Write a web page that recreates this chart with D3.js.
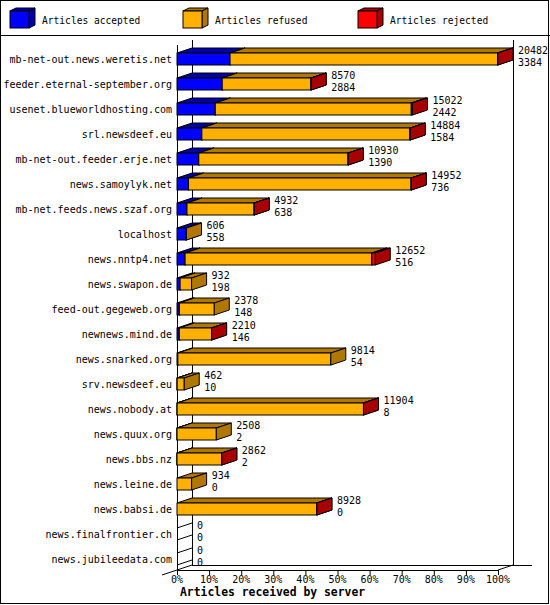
<!DOCTYPE html>
<html>
<head>
<meta charset="utf-8">
<script src="https://cdn.jsdelivr.net/npm/d3@7"></script>
<style>
  body { margin: 0; background: #fff; }
  text { font-family: "DejaVu Sans Mono", monospace; font-size: 10px; fill: #000; }
</style>
</head>
<body>
<div id="chart"></div>
<script>
// Servers, top to bottom
const servers = [
    'mb-net-out.news.weretis.net', 'feeder.eternal-september.org', 'usenet.blueworldhosting.com',
    'srl.newsdeef.eu', 'mb-net-out.feeder.erje.net', 'news.samoylyk.net', 'mb-net.feeds.news.szaf.org',
    'localhost', 'news.nntp4.net', 'news.swapon.de', 'feed-out.gegeweb.org', 'newnews.mind.de',
    'news.snarked.org', 'srv.newsdeef.eu', 'news.nobody.at', 'news.quux.org', 'news.bbs.nz',
    'news.leine.de', 'news.babsi.de', 'news.finalfrontier.ch', 'news.jubileedata.com'
];
const accepted = [3384, 2884, 2442, 1584, 1390, 736, 638, 558, 516, 198, 148, 146, 54, 10, 8, 2, 2, 0, 0, 0, 0];
const refused  = [17068, 5666, 12510, 13285, 9530, 14204, 4286, 48, 11916, 734, 2230, 2060, 9760, 452, 11890, 2506, 2857, 934, 8923, 0, 0];
const rejected = [30, 20, 70, 15, 10, 12, 8, 0, 220, 0, 0, 4, 0, 0, 6, 0, 3, 0, 5, 0, 0];
const pctTicks = [0, 10, 20, 30, 40, 50, 60, 70, 80, 90, 100];

const seriesNames = ['Articles accepted', 'Articles refused', 'Articles rejected'];
const frontColors = ['#0000ff', '#ffb000', '#ff0000'];
const darkColors  = ['#0000a8', '#b07800', '#a80000'];

const W = 550, H = 605;
const dx = 15, dy = -5;   // 3D depth

const svg = d3.select('#chart').append('svg')
    .attr('width', W)
    .attr('height', H);

svg.append('rect')
    .attr('x', 0.5).attr('y', 0.5)
    .attr('width', W - 2).attr('height', H - 2)
    .attr('fill', '#fff').attr('stroke', '#000');

// Legend
svg.append('line')
    .attr('x1', 0).attr('x2', W).attr('y1', 35.5).attr('y2', 35.5)
    .attr('stroke', '#000');

const legendX = [10, 183, 358];
seriesNames.forEach((name, i) => {
    const x = legendX[i], y = 11, w = 19, h = 17, ox = 6, oy = -3;
    const g = svg.append('g').attr('stroke', '#000').attr('stroke-linejoin', 'miter');
    g.append('polygon')
        .attr('points', [[x, y], [x + ox, y + oy], [x + w + ox, y + oy], [x + w, y]].join(' '))
        .attr('fill', darkColors[i]);
    g.append('polygon')
        .attr('points', [[x + w, y], [x + w + ox, y + oy], [x + w + ox, y + h + oy], [x + w, y + h]].join(' '))
        .attr('fill', darkColors[i]);
    g.append('rect')
        .attr('x', x).attr('y', y).attr('width', w).attr('height', h)
        .attr('fill', frontColors[i]);
    svg.append('text')
        .attr('x', x + 32).attr('y', 23.5)
        .style('font-size', '9.6px')
        .text(name);
});

// Scales
const totals = servers.map((s, i) => accepted[i] + refused[i] + rejected[i]);
const x = d3.scaleLinear().domain([0, d3.max(totals)]).range([177, 498]);
const xPct = d3.scaleLinear().domain([0, 100]).range([177, 498]);
const y = d3.scaleBand().domain(servers).range([45, 570]);

const x0 = xPct(0), x1 = xPct(100);
const yTop = y.range()[0], yBot = y.range()[1];

// Walls / floor
const axes = svg.append('g').attr('stroke', '#000').attr('fill', 'none');
axes.append('line').attr('x1', x0 + dx + 0.5).attr('x2', x0 + dx + 0.5).attr('y1', yTop + dy).attr('y2', yBot + dy);
axes.append('line').attr('x1', x1 + dx + 0.5).attr('x2', x1 + dx + 0.5).attr('y1', yTop + dy).attr('y2', yBot + dy);
axes.append('line').attr('x1', x0 + dx).attr('x2', x1 + dx + 19).attr('y1', yBot + dy + 0.5).attr('y2', yBot + dy + 0.5);
axes.append('line').attr('x1', x0 - dx).attr('y1', yBot - dy).attr('x2', x0 + dx).attr('y2', yBot + dy);
axes.append('line').attr('x1', x1).attr('y1', yBot).attr('x2', x1 + dx).attr('y2', yBot + dy);
axes.append('line').attr('x1', x0).attr('x2', x1).attr('y1', yBot + 0.5).attr('y2', yBot + 0.5);
axes.append('line').attr('x1', x0 + 0.5).attr('x2', x0 + 0.5).attr('y1', yTop).attr('y2', yBot);

// x ticks
pctTicks.forEach(t => {
    axes.append('line')
        .attr('x1', xPct(t) + 0.5).attr('x2', xPct(t) + 0.5)
        .attr('y1', yBot).attr('y2', yBot + 5);
    svg.append('text')
        .attr('x', xPct(t)).attr('y', yBot + 13)
        .attr('text-anchor', 'middle')
        .text(t + '%');
});

svg.append('text')
    .attr('x', 180).attr('y', 596)
    .style('font-weight', 'bold')
    .style('font-size', '11.4px')
    .text('Articles received by server');

// Bars
const barH = 12;
servers.forEach((s, i) => {
    const top = y(s) + 8;
    const bottom = top + barH;
    const parts = [accepted[i], refused[i], rejected[i]];
    const g = svg.append('g').attr('stroke', '#000').attr('stroke-linejoin', 'miter');
    let cum = 0;
    parts.forEach((v, k) => {
        if (v <= 0) return;
        const a = x(cum), b = x(cum + v);
        cum += v;
        g.append('polygon')
            .attr('points', [[a, top], [a + dx, top + dy], [b + dx, top + dy], [b, top]].join(' '))
            .attr('fill', darkColors[k]);
        g.append('rect')
            .attr('x', a).attr('y', top).attr('width', b - a).attr('height', barH)
            .attr('fill', frontColors[k]);
        g.append('polygon')
            .attr('points', [[b, top], [b + dx, top + dy], [b + dx, bottom + dy], [b, bottom]].join(' '))
            .attr('fill', darkColors[k]);
    });
    if (totals[i] === 0) {
        // empty bar: only its edges on the left wall
        g.append('line').attr('x1', x0).attr('y1', top).attr('x2', x0 + dx).attr('y2', top + dy);
        g.append('line').attr('x1', x0).attr('y1', bottom).attr('x2', x0 + dx).attr('y2', bottom + dy);
    }

    // server name
    svg.append('text')
        .attr('x', 172).attr('y', top + 10)
        .attr('text-anchor', 'end')
        .text(s);

    // values: total offered / accepted
    const lx = x(totals[i]) + dx + 5;
    svg.append('text').attr('x', lx).attr('y', top + 1).text(totals[i]);
    svg.append('text').attr('x', lx).attr('y', top + 13).text(accepted[i]);
});
</script>
</body>
</html>
